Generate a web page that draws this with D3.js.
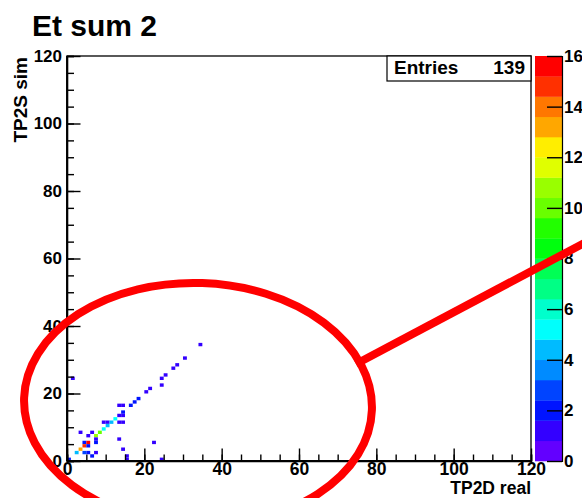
<!DOCTYPE html>
<html><head><meta charset="utf-8">
<script src="https://cdn.jsdelivr.net/npm/d3@7"></script>
<style>
body{margin:0;background:#fff;}
text{font-family:"Liberation Sans",Arial,Helvetica,sans-serif;font-weight:bold;fill:#000;}
</style></head>
<body>
<svg id="c" width="582" height="498"></svg>
<script>
// ---- data ----
const title = "Et sum 2";
const xTitle = "TP2D real";
const yTitle = "TP2S sim";
const entries = 139;
const xTicks = [0, 20, 40, 60, 80, 100, 120];
const yTicks = [0, 20, 40, 60, 80, 100, 120];
const zTicks = [0, 2, 4, 6, 8, 10, 12, 14, 16];
// non-empty bins (1-unit bins): lower edge in x, lower edge in y, content
const binX = [34,30,28,27,25,24,24,21,20,18,17,16,14,13,14,13,14,13,14,9,10,12,11,10,9,8,7,6,3,5,7,7,4,5,4,5,3,2,4,5,6,7,0,1,13,14,15,15,22,24];
const binY = [34,30,28,27,25,24,22,21,20,18,17,16,14,16,16,13,13,11,11,11,11,12,11,10,9,8,7,8,8,7,6,5,5,5,4,4,3,2,2,2,1,2,0,24,6,3,1,0,5,0];
const binC = [1,1,1,1,1,1,1,1,1,2,2,2,2,1,1,1,1,1,1,1,1,5,4,4,5,10,11,1,1,1,1,2,2,16,15,2,13,4,3,2,2,1,2,1,1,1,1,1,1,1];

// ---- layout ----
const svg = d3.select("#c");
const L = 67, R = 531, T = 56, B = 461;
const PL = 535, PR = 562;
const x = d3.scaleLinear().domain([0,120]).range([L,R]);
const y = d3.scaleLinear().domain([0,120]).range([B,T]);
const zMax = 16, nCont = 20;
const z = d3.scaleLinear().domain([0,zMax]).range([B,T]);

// ROOT "pretty" palette, 20 contours
const palette = d3.range(nCont).map(j => {
  const ci = Math.floor((j + 0.99) * 50 / nCont);
  const h = 280 - (ci + 1) * 5.6;
  return d3.hsl(h, 1, 0.5).formatHex();
});
const levels = d3.range(nCont + 1).map(i => i * zMax / nCont);
function colorOf(v){
  let j = d3.bisectRight(levels, v) - 1;
  j = Math.max(0, Math.min(nCont - 1, j));
  return palette[j];
}

svg.append("rect").attr("width",582).attr("height",498).attr("fill","#fff");

// title
svg.append("text").attr("x",32).attr("y",36).style("font-size","30px").text(title);

// frame
svg.append("rect").attr("x",L).attr("y",T).attr("width",R-L).attr("height",B-T)
  .attr("fill","#fff").attr("stroke","#000").attr("stroke-width",1.3);

// bins
const bins = binX.map((bx,i)=>({bx, by: binY[i], c: binC[i]}));
svg.append("g").selectAll("rect").data(bins).join("rect")
  .attr("x", d => x(d.bx)).attr("y", d => y(d.by+1))
  .attr("width", d => x(d.bx+1)-x(d.bx)).attr("height", d => y(d.by)-y(d.by+1))
  .attr("fill", d => colorOf(d.c));

// axes
function styleAxis(g){
  g.select(".domain").attr("stroke","#000").attr("stroke-width",1.6);
  g.selectAll(".tick line").attr("stroke","#000").attr("stroke-width",1.4);
}
const minor = d3.range(0,121,5);
svg.append("g").attr("transform",`translate(0,${B})`)
  .call(d3.axisBottom(x).tickValues(minor).tickSize(-6.5).tickFormat(""))
  .call(styleAxis);
const gx = svg.append("g").attr("transform",`translate(0,${B})`)
  .call(d3.axisBottom(x).tickValues(xTicks).tickSize(-12.5).tickPadding(2).tickFormat(d3.format("d")))
  .call(styleAxis);
gx.selectAll("text").style("font-size","17.5px").style("font-family","Liberation Sans, Arial").attr("fill","#000");

svg.append("g").attr("transform",`translate(${L},0)`)
  .call(d3.axisLeft(y).tickValues(minor).tickSize(-7).tickFormat(""))
  .call(styleAxis);
const gy = svg.append("g").attr("transform",`translate(${L},0)`)
  .call(d3.axisLeft(y).tickValues(yTicks).tickSize(-13.5).tickPadding(5).tickFormat(d3.format("d")))
  .call(styleAxis);
gy.selectAll("text").style("font-size","17px").style("font-family","Liberation Sans, Arial").attr("fill","#000");
gx.select(".domain").remove(); gy.select(".domain").remove();
svg.append("line").attr("x1",L).attr("x2",R).attr("y1",B).attr("y2",B).attr("stroke","#000").attr("stroke-width",1.8);
svg.append("line").attr("x1",L).attr("x2",L).attr("y1",T).attr("y2",B).attr("stroke","#000").attr("stroke-width",1.8);

// axis titles
svg.append("text").attr("x",R).attr("y",494).attr("text-anchor","end").style("font-size","17.5px").text(xTitle);
svg.append("text").attr("transform",`translate(27,${T+1}) rotate(-90)`).attr("text-anchor","end")
  .style("font-size","19px").text(yTitle);

// palette
svg.append("g").selectAll("rect").data(palette).join("rect")
  .attr("x",PL).attr("width",PR-PL)
  .attr("y",(d,j)=>z(levels[j+1])).attr("height",(d,j)=>z(levels[j])-z(levels[j+1])+0.3)
  .attr("fill",d=>d);
const gz = svg.append("g").attr("transform",`translate(${PR},0)`)
  .call(d3.axisRight(z).tickValues(zTicks).tickSize(-15).tickPadding(2).tickFormat(d3.format("d")))
  .call(styleAxis);
gz.select(".domain").attr("stroke-width",1.2);
gz.selectAll("text").style("font-size","17px").style("font-family","Liberation Sans, Arial").attr("fill","#000");

// stats box
svg.append("rect").attr("x",387).attr("y",T).attr("width",R-387).attr("height",25)
  .attr("fill","#fff").attr("stroke","#000").attr("stroke-width",1.2);
svg.append("text").attr("x",394).attr("y",74).style("font-size","19px").text("Entries");
svg.append("text").attr("x",525).attr("y",74).attr("text-anchor","end").style("font-size","19px").text(entries);

// red annotation
svg.append("line").attr("x1",356).attr("y1",364).attr("x2",590).attr("y2",240)
  .attr("stroke","#ff0000").attr("stroke-width",8);
svg.append("ellipse").attr("cx",198).attr("cy",404).attr("rx",174).attr("ry",121)
  .attr("transform","rotate(2,198,404)")
  .attr("fill","none").attr("stroke","#ff0000").attr("stroke-width",8);
</script>
</body></html>
